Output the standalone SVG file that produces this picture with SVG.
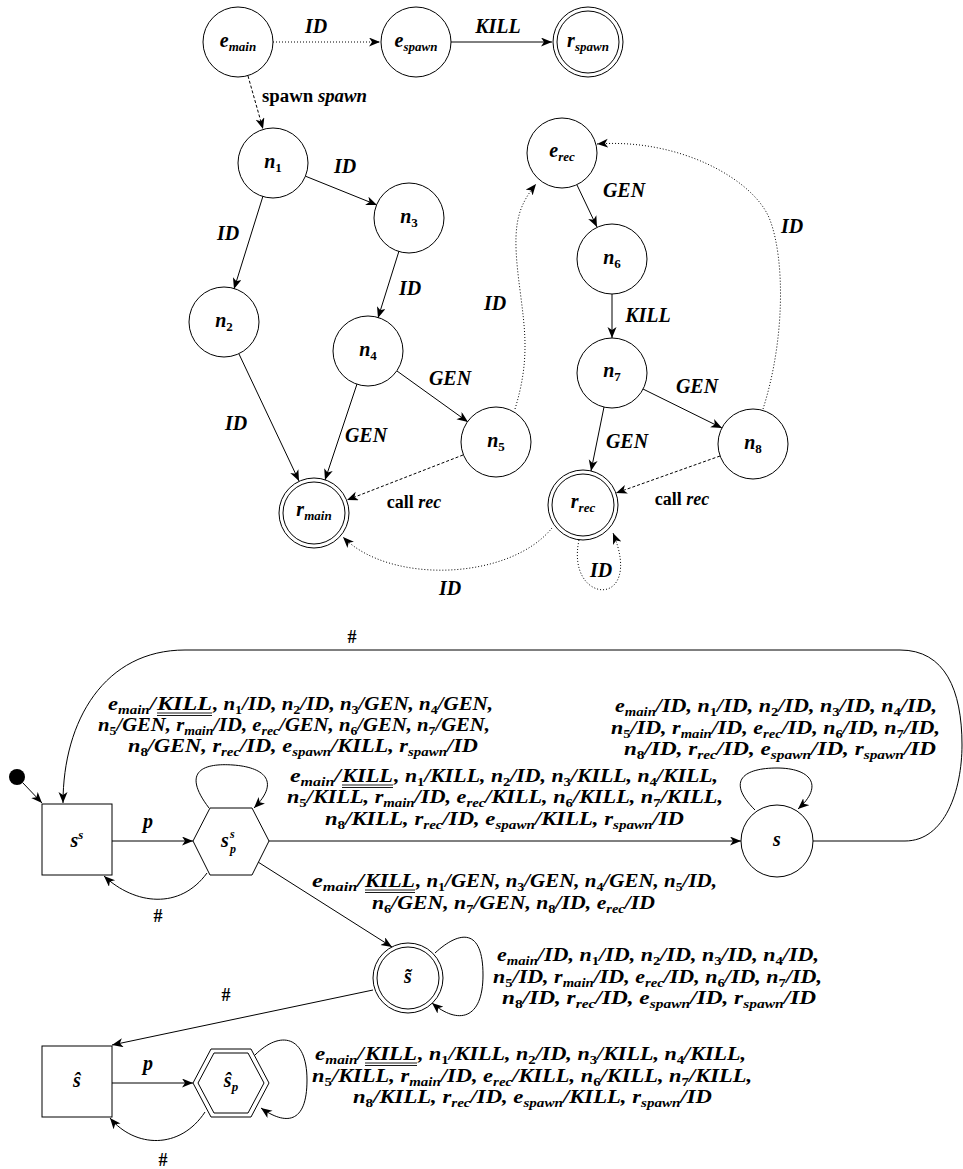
<svg xmlns="http://www.w3.org/2000/svg" width="963" height="1169" viewBox="0 0 963 1169">
<style>
.nd{fill:#fff;stroke:#000;stroke-width:1}
.e{fill:none;stroke:#000;stroke-width:1;marker-end:url(#ah)}
.dot{stroke-dasharray:1 2}
.dash{stroke-dasharray:3 2}
.m{font-family:"Liberation Serif","DejaVu Serif",serif;font-style:italic;font-weight:bold;font-size:18px;fill:#000}
.el{font-size:20px}
.nl{font-size:20px}
.s{font-size:12px}
.nl .s,.nl .d{font-size:13px}
.d{font-size:12px;font-style:normal}
.rm{font-style:normal}
.c{text-anchor:middle}
.ul{stroke:#000;stroke-width:0.9}
</style>
<defs>
<marker id="ah" markerUnits="userSpaceOnUse" markerWidth="12" markerHeight="10" refX="11" refY="4.5" orient="auto">
<path d="M0,0 L11,4.5 L0,9 L3,4.5 z" fill="#000"/>
</marker>
</defs>
<rect width="963" height="1169" fill="#fff"/>

<g id="connectors">
<path class="e dot" d="M273,42 L380,42"/>
<path class="e" d="M451,42 L552,42"/>
<path class="e dash" d="M248,76 L263,129"/>
<path class="e" d="M305,176 L377,205"/>
<path class="e" d="M263,196 L234,289"/>
<path class="e" d="M399,251 L378,318"/>
<path class="e" d="M397,371 L468,422"/>
<path class="e" d="M239,354 L299,481"/>
<path class="e" d="M357,384 L325,480"/>
<path class="e dash" d="M463,455 L347,500"/>
<path class="e dot" d="M552,528 C510,580 390,585 343,537"/>
<path class="e dot" d="M579,540 C565,605 645,610 613,533"/>
<path class="e dot" d="M515,409 C530,360 525,330 520,290 C512,230 515,210 536,184"/>
<path class="e" d="M577,185 L597,227"/>
<path class="e" d="M612,294 L612,338"/>
<path class="e" d="M643,389 L722,428"/>
<path class="e" d="M604,407 L591,471"/>
<path class="e dash" d="M720,456 L616,493"/>
<path class="e dot" d="M763,409 C785,340 785,260 770,220 C755,180 680,138 597,144"/>

<path class="e" d="M23,783 L42,803"/>
<path class="e" d="M112,841 L193,841"/>
<path class="e" d="M207,873 C180,910 135,905 104,876"/>
<path class="e" d="M209,808 C180,770 205,763 233,765 C262,767 282,780 254,808"/>
<path class="e" d="M269,841 L741,841"/>
<path class="e" d="M755,810 C725,780 745,768 777,768 C810,768 825,785 798,809"/>
<path class="e" d="M813,841 L905,841 C945,841 962,790 962,745 C962,690 945,650 900,650 L185,650 C105,650 63,720 63,803"/>
<path class="e" d="M258,862 L392,947"/>
<path class="e" d="M435,953 C460,930 483,928 483,975 C483,1020 458,1025 432,1003"/>
<path class="e" d="M373,990 L112,1045"/>
<path class="e" d="M112,1083 L193,1083"/>
<path class="e" d="M205,1112 C180,1150 135,1148 110,1118"/>
<path class="e" d="M255,1055 C280,1030 307,1035 307,1080 C307,1125 285,1125 261,1108"/>

<g id="edge-labels">
<text class="m el c" x="316" y="33">ID</text>
<text class="m el c" x="498" y="33">KILL</text>
<text class="m" x="262" y="102" textLength="105" lengthAdjust="spacingAndGlyphs"><tspan class="rm">spawn </tspan>spawn</text>
<text class="m el c" x="345" y="173">ID</text>
<text class="m el c" x="228" y="240">ID</text>
<text class="m el c" x="410" y="295">ID</text>
<text class="m el c" x="450" y="385">GEN</text>
<text class="m el c" x="236" y="430">ID</text>
<text class="m el c" x="366" y="442">GEN</text>
<text class="m c" x="414" y="508"><tspan class="rm">call </tspan>rec</text>
<text class="m el c" x="495" y="310">ID</text>
<text class="m el c" x="624" y="197">GEN</text>
<text class="m el c" x="648" y="322">KILL</text>
<text class="m el c" x="697" y="393">GEN</text>
<text class="m el c" x="627" y="448">GEN</text>
<text class="m c" x="682" y="505"><tspan class="rm">call </tspan>rec</text>
<text class="m el c" x="792" y="233">ID</text>
<text class="m el c" x="450" y="595">ID</text>
<text class="m el c" x="601" y="577">ID</text>

<text class="m el c" x="148" y="828">p</text>
<text class="m c rm" x="158" y="922">#</text>
<text class="m c rm" x="352" y="643">#</text>
<text class="m c rm" x="226" y="1001">#</text>
<text class="m el c" x="148" y="1070">p</text>
<text class="m c rm" x="163" y="1166">#</text>

<!-- Label A -->
<text class="m" x="108" y="710" textLength="48" lengthAdjust="spacingAndGlyphs">e<tspan class="s" dy="4">main</tspan><tspan dy="-4">/</tspan></text>
<text class="m" x="157" y="710" textLength="55" lengthAdjust="spacingAndGlyphs">KILL</text>
<line class="ul" x1="157" y1="713" x2="212" y2="713"/><line class="ul" x1="157" y1="715.5" x2="212" y2="715.5"/>
<text class="m" x="213" y="710" textLength="280" lengthAdjust="spacingAndGlyphs">, n<tspan class="d" dy="4">1</tspan><tspan dy="-4">/ID, n</tspan><tspan class="d" dy="4">2</tspan><tspan dy="-4">/ID, n</tspan><tspan class="d" dy="4">3</tspan><tspan dy="-4">/GEN, n</tspan><tspan class="d" dy="4">4</tspan><tspan dy="-4">/GEN,</tspan></text>
<text class="m" x="98" y="731" textLength="392" lengthAdjust="spacingAndGlyphs">n<tspan class="d" dy="4">5</tspan><tspan dy="-4">/GEN, r</tspan><tspan class="s" dy="4">main</tspan><tspan dy="-4">/ID, e</tspan><tspan class="s" dy="4">rec</tspan><tspan dy="-4">/GEN, n</tspan><tspan class="d" dy="4">6</tspan><tspan dy="-4">/GEN, n</tspan><tspan class="d" dy="4">7</tspan><tspan dy="-4">/GEN,</tspan></text>
<text class="m" x="128" y="752" textLength="350" lengthAdjust="spacingAndGlyphs">n<tspan class="d" dy="4">8</tspan><tspan dy="-4">/GEN, r</tspan><tspan class="s" dy="4">rec</tspan><tspan dy="-4">/ID, e</tspan><tspan class="s" dy="4">spawn</tspan><tspan dy="-4">/KILL, r</tspan><tspan class="s" dy="4">spawn</tspan><tspan dy="-4">/ID</tspan></text>

<!-- Label B -->
<text class="m" x="290" y="782" textLength="51" lengthAdjust="spacingAndGlyphs">e<tspan class="s" dy="4">main</tspan><tspan dy="-4">/</tspan></text>
<text class="m" x="342" y="782" textLength="51" lengthAdjust="spacingAndGlyphs">KILL</text>
<line class="ul" x1="342" y1="785" x2="393" y2="785"/><line class="ul" x1="342" y1="787.5" x2="393" y2="787.5"/>
<text class="m" x="394" y="782" textLength="324" lengthAdjust="spacingAndGlyphs">, n<tspan class="d" dy="4">1</tspan><tspan dy="-4">/KILL, n</tspan><tspan class="d" dy="4">2</tspan><tspan dy="-4">/ID, n</tspan><tspan class="d" dy="4">3</tspan><tspan dy="-4">/KILL, n</tspan><tspan class="d" dy="4">4</tspan><tspan dy="-4">/KILL,</tspan></text>
<text class="m" x="287" y="803" textLength="436" lengthAdjust="spacingAndGlyphs">n<tspan class="d" dy="4">5</tspan><tspan dy="-4">/KILL, r</tspan><tspan class="s" dy="4">main</tspan><tspan dy="-4">/ID, e</tspan><tspan class="s" dy="4">rec</tspan><tspan dy="-4">/KILL, n</tspan><tspan class="d" dy="4">6</tspan><tspan dy="-4">/KILL, n</tspan><tspan class="d" dy="4">7</tspan><tspan dy="-4">/KILL,</tspan></text>
<text class="m" x="325" y="825" textLength="359" lengthAdjust="spacingAndGlyphs">n<tspan class="d" dy="4">8</tspan><tspan dy="-4">/KILL, r</tspan><tspan class="s" dy="4">rec</tspan><tspan dy="-4">/ID, e</tspan><tspan class="s" dy="4">spawn</tspan><tspan dy="-4">/KILL, r</tspan><tspan class="s" dy="4">spawn</tspan><tspan dy="-4">/ID</tspan></text>

<!-- Label C -->
<text class="m" x="615" y="712" textLength="322" lengthAdjust="spacingAndGlyphs">e<tspan class="s" dy="4">main</tspan><tspan dy="-4">/ID, n</tspan><tspan class="d" dy="4">1</tspan><tspan dy="-4">/ID, n</tspan><tspan class="d" dy="4">2</tspan><tspan dy="-4">/ID, n</tspan><tspan class="d" dy="4">3</tspan><tspan dy="-4">/ID, n</tspan><tspan class="d" dy="4">4</tspan><tspan dy="-4">/ID,</tspan></text>
<text class="m" x="611" y="734" textLength="329" lengthAdjust="spacingAndGlyphs">n<tspan class="d" dy="4">5</tspan><tspan dy="-4">/ID, r</tspan><tspan class="s" dy="4">main</tspan><tspan dy="-4">/ID, e</tspan><tspan class="s" dy="4">rec</tspan><tspan dy="-4">/ID, n</tspan><tspan class="d" dy="4">6</tspan><tspan dy="-4">/ID, n</tspan><tspan class="d" dy="4">7</tspan><tspan dy="-4">/ID,</tspan></text>
<text class="m" x="624" y="755" textLength="312" lengthAdjust="spacingAndGlyphs">n<tspan class="d" dy="4">8</tspan><tspan dy="-4">/ID, r</tspan><tspan class="s" dy="4">rec</tspan><tspan dy="-4">/ID, e</tspan><tspan class="s" dy="4">spawn</tspan><tspan dy="-4">/ID, r</tspan><tspan class="s" dy="4">spawn</tspan><tspan dy="-4">/ID</tspan></text>

<!-- Label D -->
<text class="m" x="312" y="887" textLength="52" lengthAdjust="spacingAndGlyphs">e<tspan class="s" dy="4">main</tspan><tspan dy="-4">/</tspan></text>
<text class="m" x="365" y="887" textLength="50" lengthAdjust="spacingAndGlyphs">KILL</text>
<line class="ul" x1="365" y1="890" x2="415" y2="890"/><line class="ul" x1="365" y1="892.5" x2="415" y2="892.5"/>
<text class="m" x="416" y="887" textLength="301" lengthAdjust="spacingAndGlyphs">, n<tspan class="d" dy="4">1</tspan><tspan dy="-4">/GEN, n</tspan><tspan class="d" dy="4">3</tspan><tspan dy="-4">/GEN, n</tspan><tspan class="d" dy="4">4</tspan><tspan dy="-4">/GEN, n</tspan><tspan class="d" dy="4">5</tspan><tspan dy="-4">/ID,</tspan></text>
<text class="m" x="372" y="909" textLength="283" lengthAdjust="spacingAndGlyphs">n<tspan class="d" dy="4">6</tspan><tspan dy="-4">/GEN, n</tspan><tspan class="d" dy="4">7</tspan><tspan dy="-4">/GEN, n</tspan><tspan class="d" dy="4">8</tspan><tspan dy="-4">/ID, e</tspan><tspan class="s" dy="4">rec</tspan><tspan dy="-4">/ID</tspan></text>

<!-- Label E -->
<text class="m" x="497" y="961" textLength="322" lengthAdjust="spacingAndGlyphs">e<tspan class="s" dy="4">main</tspan><tspan dy="-4">/ID, n</tspan><tspan class="d" dy="4">1</tspan><tspan dy="-4">/ID, n</tspan><tspan class="d" dy="4">2</tspan><tspan dy="-4">/ID, n</tspan><tspan class="d" dy="4">3</tspan><tspan dy="-4">/ID, n</tspan><tspan class="d" dy="4">4</tspan><tspan dy="-4">/ID,</tspan></text>
<text class="m" x="493" y="983" textLength="329" lengthAdjust="spacingAndGlyphs">n<tspan class="d" dy="4">5</tspan><tspan dy="-4">/ID, r</tspan><tspan class="s" dy="4">main</tspan><tspan dy="-4">/ID, e</tspan><tspan class="s" dy="4">rec</tspan><tspan dy="-4">/ID, n</tspan><tspan class="d" dy="4">6</tspan><tspan dy="-4">/ID, n</tspan><tspan class="d" dy="4">7</tspan><tspan dy="-4">/ID,</tspan></text>
<text class="m" x="502" y="1004" textLength="314" lengthAdjust="spacingAndGlyphs">n<tspan class="d" dy="4">8</tspan><tspan dy="-4">/ID, r</tspan><tspan class="s" dy="4">rec</tspan><tspan dy="-4">/ID, e</tspan><tspan class="s" dy="4">spawn</tspan><tspan dy="-4">/ID, r</tspan><tspan class="s" dy="4">spawn</tspan><tspan dy="-4">/ID</tspan></text>

<!-- Label F -->
<text class="m" x="315" y="1060" textLength="49" lengthAdjust="spacingAndGlyphs">e<tspan class="s" dy="4">main</tspan><tspan dy="-4">/</tspan></text>
<text class="m" x="365" y="1060" textLength="52" lengthAdjust="spacingAndGlyphs">KILL</text>
<line class="ul" x1="365" y1="1063" x2="417" y2="1063"/><line class="ul" x1="365" y1="1065.5" x2="417" y2="1065.5"/>
<text class="m" x="418" y="1060" textLength="328" lengthAdjust="spacingAndGlyphs">, n<tspan class="d" dy="4">1</tspan><tspan dy="-4">/KILL, n</tspan><tspan class="d" dy="4">2</tspan><tspan dy="-4">/ID, n</tspan><tspan class="d" dy="4">3</tspan><tspan dy="-4">/KILL, n</tspan><tspan class="d" dy="4">4</tspan><tspan dy="-4">/KILL,</tspan></text>
<text class="m" x="312" y="1082" textLength="440" lengthAdjust="spacingAndGlyphs">n<tspan class="d" dy="4">5</tspan><tspan dy="-4">/KILL, r</tspan><tspan class="s" dy="4">main</tspan><tspan dy="-4">/ID, e</tspan><tspan class="s" dy="4">rec</tspan><tspan dy="-4">/KILL, n</tspan><tspan class="d" dy="4">6</tspan><tspan dy="-4">/KILL, n</tspan><tspan class="d" dy="4">7</tspan><tspan dy="-4">/KILL,</tspan></text>
<text class="m" x="353" y="1103" textLength="359" lengthAdjust="spacingAndGlyphs">n<tspan class="d" dy="4">8</tspan><tspan dy="-4">/KILL, r</tspan><tspan class="s" dy="4">rec</tspan><tspan dy="-4">/ID, e</tspan><tspan class="s" dy="4">spawn</tspan><tspan dy="-4">/KILL, r</tspan><tspan class="s" dy="4">spawn</tspan><tspan dy="-4">/ID</tspan></text>
</g>
</g>

<g id="e_main"><circle class="nd" cx="238" cy="42" r="35"/><text class="m nl c" x="238" y="47">e<tspan class="s" dy="4">main</tspan></text></g>
<g id="e_spawn"><circle class="nd" cx="416" cy="42" r="35"/><text class="m nl c" x="416" y="47">e<tspan class="s" dy="4">spawn</tspan></text></g>
<g id="r_spawn"><circle class="nd" cx="588" cy="42" r="35"/><circle class="nd" cx="588" cy="42" r="31"/><text class="m nl c" x="588" y="47">r<tspan class="s" dy="4">spawn</tspan></text></g>
<g id="n1"><circle class="nd" cx="273" cy="163" r="35"/><text class="m nl c" x="273" y="168">n<tspan class="d" dy="4">1</tspan></text></g>
<g id="n2"><circle class="nd" cx="224" cy="322" r="35"/><text class="m nl c" x="224" y="327">n<tspan class="d" dy="4">2</tspan></text></g>
<g id="n3"><circle class="nd" cx="409" cy="218" r="35"/><text class="m nl c" x="409" y="223">n<tspan class="d" dy="4">3</tspan></text></g>
<g id="n4"><circle class="nd" cx="368" cy="351" r="35"/><text class="m nl c" x="368" y="356">n<tspan class="d" dy="4">4</tspan></text></g>
<g id="n5"><circle class="nd" cx="496" cy="442" r="35"/><text class="m nl c" x="496" y="447">n<tspan class="d" dy="4">5</tspan></text></g>
<g id="r_main"><circle class="nd" cx="314" cy="513" r="35"/><circle class="nd" cx="314" cy="513" r="31"/><text class="m nl c" x="314" y="516">r<tspan class="s" dy="4">main</tspan></text></g>
<g id="e_rec"><circle class="nd" cx="562" cy="153" r="35"/><text class="m nl c" x="562" y="157">e<tspan class="s" dy="4">rec</tspan></text></g>
<g id="n6"><circle class="nd" cx="612" cy="259" r="35"/><text class="m nl c" x="612" y="264">n<tspan class="d" dy="4">6</tspan></text></g>
<g id="n7"><circle class="nd" cx="612" cy="373" r="35"/><text class="m nl c" x="612" y="377">n<tspan class="d" dy="4">7</tspan></text></g>
<g id="n8"><circle class="nd" cx="753" cy="444" r="35"/><text class="m nl c" x="753" y="449">n<tspan class="d" dy="4">8</tspan></text></g>
<g id="r_rec"><circle class="nd" cx="583" cy="505" r="35"/><circle class="nd" cx="583" cy="505" r="31"/><text class="m nl c" x="583" y="508">r<tspan class="s" dy="4">rec</tspan></text></g>

<g id="init"><circle cx="17" cy="777" r="8" fill="#000"/></g>
<g id="s_s"><rect class="nd" x="42" y="804" width="70" height="71"/><text class="m nl c" x="77" y="847">s<tspan class="s" dy="-8">s</tspan></text></g>
<g id="s_p_s"><polygon class="nd" points="193,841 210,808 252,808 269,841 252,875 210,875"/><text class="m nl" x="221" y="847">s</text><text class="m s" x="230" y="838">s</text><text class="m s" x="230" y="853">p</text></g>
<g id="s"><circle class="nd" cx="777" cy="841" r="36"/><text class="m nl c" x="777" y="846">s</text></g>
<g id="s_tilde"><circle class="nd" cx="408" cy="978" r="35"/><circle class="nd" cx="408" cy="978" r="31"/><text class="m nl c" x="408" y="983">s̃</text></g>
<g id="s_hat"><rect class="nd" x="42" y="1046" width="70" height="71"/><text class="m nl c" x="77" y="1087">ŝ</text></g>
<g id="s_hat_p"><polygon class="nd" points="193,1083 211,1049 251,1049 269,1083 251,1117 211,1117"/><polygon class="nd" points="198,1083 214,1053 248,1053 264,1083 248,1113 214,1113"/><text class="m nl c" x="231" y="1087">ŝ<tspan class="s" dy="4">p</tspan></text></g>
</svg>
